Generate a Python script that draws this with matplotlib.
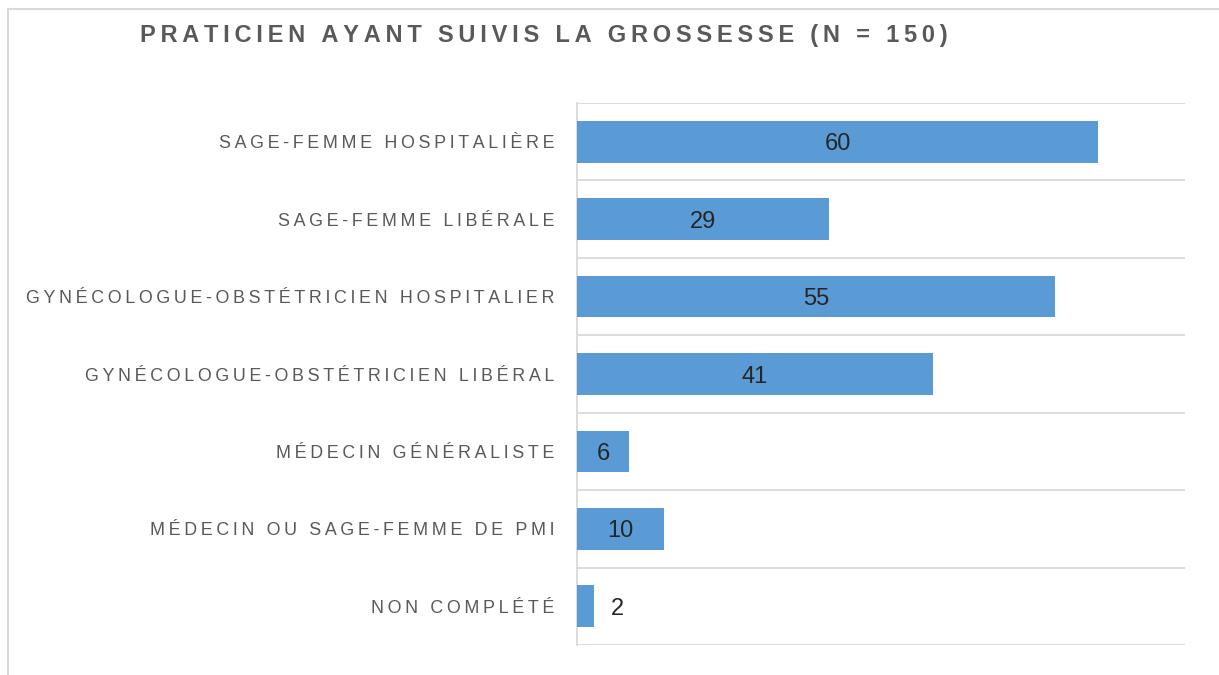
import matplotlib
matplotlib.use("Agg")
import matplotlib.pyplot as plt
from matplotlib.lines import Line2D

plt.rcParams["font.family"] = ["Liberation Sans", "DejaVu Sans"]

# data
categories = ["SAGE-FEMME HOSPITALIÈRE", "SAGE-FEMME LIBÉRALE",
              "GYNÉCOLOGUE-OBSTÉTRICIEN HOSPITALIER", "GYNÉCOLOGUE-OBSTÉTRICIEN LIBÉRAL",
              "MÉDECIN GÉNÉRALISTE", "MÉDECIN OU SAGE-FEMME DE PMI", "NON COMPLÉTÉ"]
values = [60, 29, 55, 41, 6, 10, 2]
title = "PRATICIEN AYANT SUIVIS LA GROSSESSE (N = 150)"

BAR = "#5B9BD5"; GRID = "#D9D9D9"; TXT = "#595959"; DARK = "#262626"


def spaced(s):
    """fake letter-spacing with thin spaces"""
    return "\u2009".join(s)


fig = plt.figure(figsize=(12.19, 6.75), dpi=100)
ax = fig.add_axes([577 / 1219, 1 - 645 / 675, (1185 - 577) / 1219, (645 - 103) / 675])

y = list(range(len(categories)))
ax.barh(y, values, height=0.54, color=BAR, zorder=3)
for i, v in enumerate(values):
    x = v / 2 if v >= 4 else v + 2.7
    ax.text(x, i, str(v), ha="center", va="center_baseline", fontsize=17, color=DARK, zorder=4)

for k in range(len(categories) + 1):
    ax.axhline(k - 0.5, color=GRID, lw=1.3, zorder=1)

ax.set_xlim(0, 70)
ax.set_ylim(len(categories) - 0.5, -0.5)
ax.set_xticks([])
ax.set_yticks(y)
ax.set_yticklabels([spaced(c) for c in categories], fontsize=12.9, color=TXT)
ax.tick_params(axis="y", length=0, pad=16)
for s in ("top", "right", "bottom"):
    ax.spines[s].set_visible(False)
ax.spines["left"].set_color(GRID); ax.spines["left"].set_linewidth(1.3)

fig.text(140 / 1219, 1 - 35.5 / 675, spaced(title), fontsize=17, fontweight="bold",
         color=TXT, ha="left", va="center")

# outer frame (top and left edges only visible)
fig.add_artist(Line2D([8 / 1219, 1], [1 - 8.5 / 675] * 2, color=GRID, lw=1.5))
fig.add_artist(Line2D([7.5 / 1219] * 2, [0, 1 - 8.5 / 675], color=GRID, lw=1.5))

fig.savefig("out.png", dpi=100, facecolor="white")
